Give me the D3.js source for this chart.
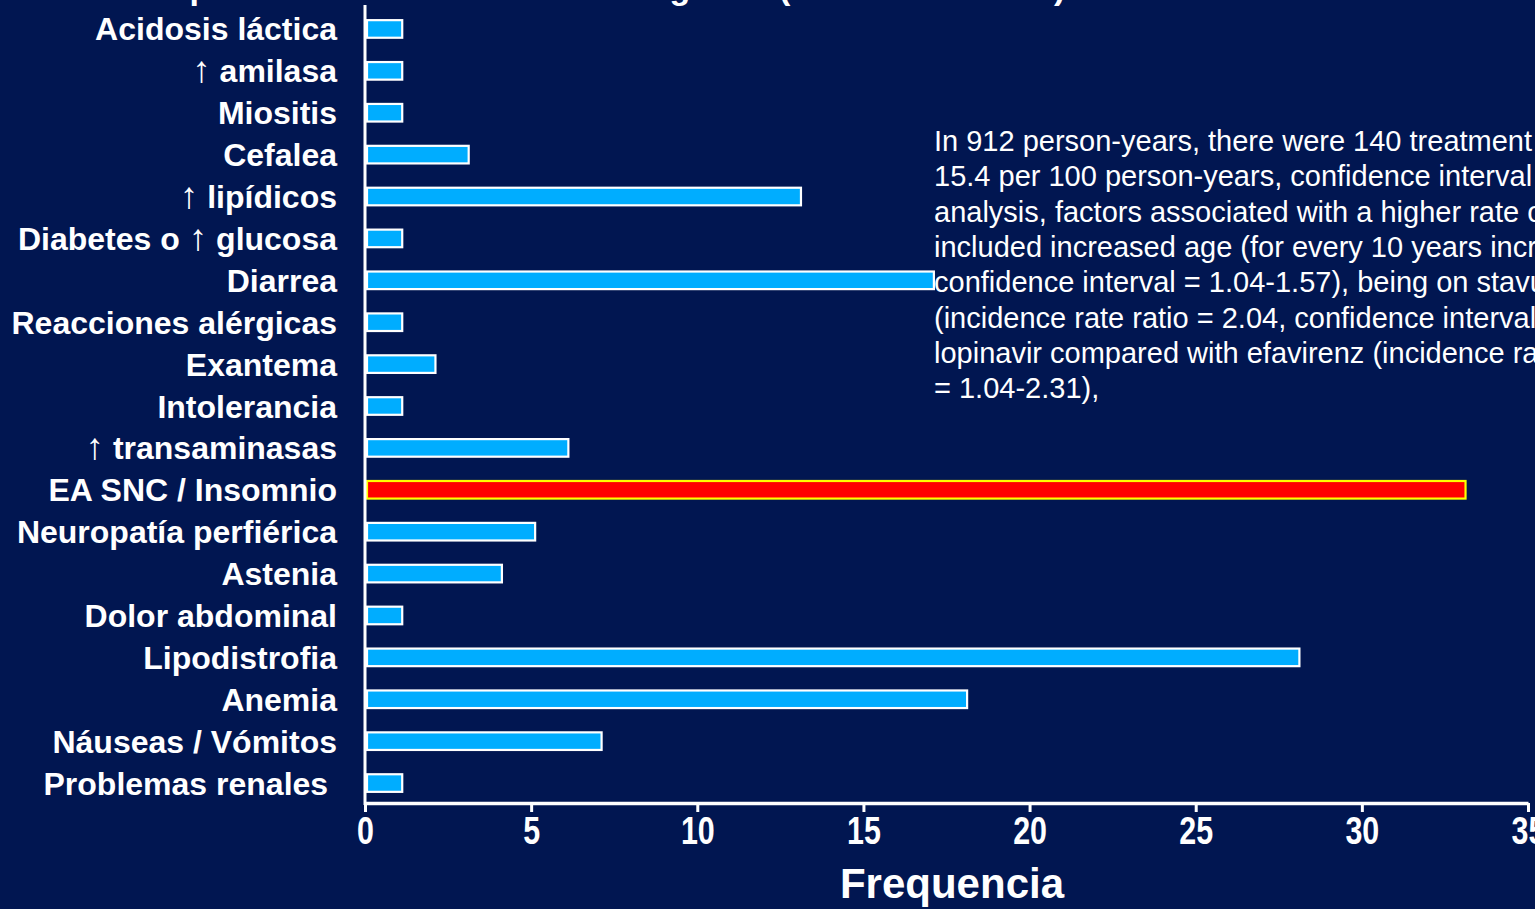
<!DOCTYPE html>
<html>
<head>
<meta charset="utf-8">
<script src="https://cdn.jsdelivr.net/npm/d3@7"></script>
<style>
  html, body { margin: 0; padding: 0; background: #011651; overflow: hidden; }
  svg { display: block; }
  text { font-family: "Liberation Sans", Arial, Helvetica, sans-serif; fill: #ffffff; }
</style>
</head>
<body>
<svg id="chart" width="1535" height="909"></svg>
<script>
// Adverse events leading to a change of regimen (counts)
const categories = [
  "Acidosis láctica", "↑ amilasa", "Miositis", "Cefalea", "↑ lipídicos",
  "Diabetes o ↑ glucosa", "Diarrea", "Reacciones alérgicas", "Exantema",
  "Intolerancia", "↑ transaminasas", "EA SNC / Insomnio", "Neuropatía perfiérica",
  "Astenia", "Dolor abdominal", "Lipodistrofia", "Anemia", "Náuseas / Vómitos",
  "Problemas renales\u00a0"
];
const counts = [1, 1, 1, 3, 13, 1, 17, 1, 2, 1, 6, 33, 5, 4, 1, 28, 18, 7, 1];
const highlighted = ["EA SNC / Insomnio"];
const xTicks = [0, 5, 10, 15, 20, 25, 30, 35];
const xTitle = "Frequencia";
const chartTitle = "Principales causas de cambio de régimen (n = 140 cambios)";
const noteLines = [
  "In 912 person-years, there were 140 treatment modifications",
  "15.4 per 100 person-years, confidence interval =",
  "analysis, factors associated with a higher rate of change",
  "included increased age (for every 10 years increase,",
  "confidence interval = 1.04-1.57), being on stavudine",
  "(incidence rate ratio = 2.04, confidence interval =",
  "lopinavir compared with efavirenz (incidence rate ratio",
  "= 1.04-2.31),"
];

const svg = d3.select("#chart");

const x = d3.scaleLinear().domain([0, 35]).range([365, 1528]);
const y = d3.scaleBand().domain(categories).range([8, 804]).paddingInner(0.58).paddingOuter(0.29);

// Title, mostly above the visible area
svg.append("text")
  .attr("x", 95).attr("y", -1)
  .attr("font-size", 34).attr("font-weight", "bold")
  .text(chartTitle);

// Bars
svg.append("g").selectAll("rect")
  .data(categories.map((c, i) => ({ c, v: counts[i] })))
  .join("rect")
  .attr("x", x(0) + 2)
  .attr("y", d => y(d.c))
  .attr("width", d => x(d.v) - x(0) + 2)
  .attr("height", y.bandwidth())
  .attr("fill", d => highlighted.includes(d.c) ? "#ff0000" : "#00adff")
  .attr("stroke", d => highlighted.includes(d.c) ? "#ffff00" : "#ffffff")
  .attr("stroke-width", 2.2);

// Category labels; the up-arrow is set as a taller, light glyph
const labels = svg.append("g").selectAll("text")
  .data(categories)
  .join("text")
  .attr("x", 337)
  .attr("y", d => y(d) + y.bandwidth() / 2)
  .attr("dy", "0.36em")
  .attr("text-anchor", "end")
  .attr("font-size", 32)
  .attr("font-weight", "bold");

labels.each(function (d) {
  const t = d3.select(this);
  d.split(/(↑)/).filter(s => s.length).forEach(part => {
    const ts = t.append("tspan").text(part);
    if (part === "↑") {
      ts.attr("font-weight", "normal").attr("font-size", 37);
    }
  });
});

// Y axis line
svg.append("line")
  .attr("x1", x(0)).attr("x2", x(0))
  .attr("y1", 5).attr("y2", 805)
  .attr("stroke", "#ffffff").attr("stroke-width", 3);

// X axis
const xAxis = d3.axisBottom(x).tickValues(xTicks).tickSize(9).tickSizeOuter(0).tickPadding(5);
const gx = svg.append("g").attr("transform", "translate(0,803)").call(xAxis);
gx.select(".domain").attr("stroke", "#ffffff").attr("stroke-width", 3.5);
gx.selectAll(".tick line").attr("stroke", "#ffffff").attr("stroke-width", 3);
gx.selectAll(".tick text")
  .attr("fill", "#ffffff")
  .attr("font-size", 38)
  .attr("font-weight", "bold")
  .attr("font-family", "\"Liberation Sans\", Arial, sans-serif")
  .attr("transform", "scale(0.8,1)");

svg.append("text")
  .attr("x", 952).attr("y", 898)
  .attr("text-anchor", "middle")
  .attr("font-size", 42).attr("font-weight", "bold")
  .text(xTitle);

// Study note
svg.append("g").selectAll("text")
  .data(noteLines)
  .join("text")
  .attr("x", 934)
  .attr("y", (d, i) => 151 + i * 35.3)
  .attr("font-size", 29)
  .text(d => d);
</script>
</body>
</html>
